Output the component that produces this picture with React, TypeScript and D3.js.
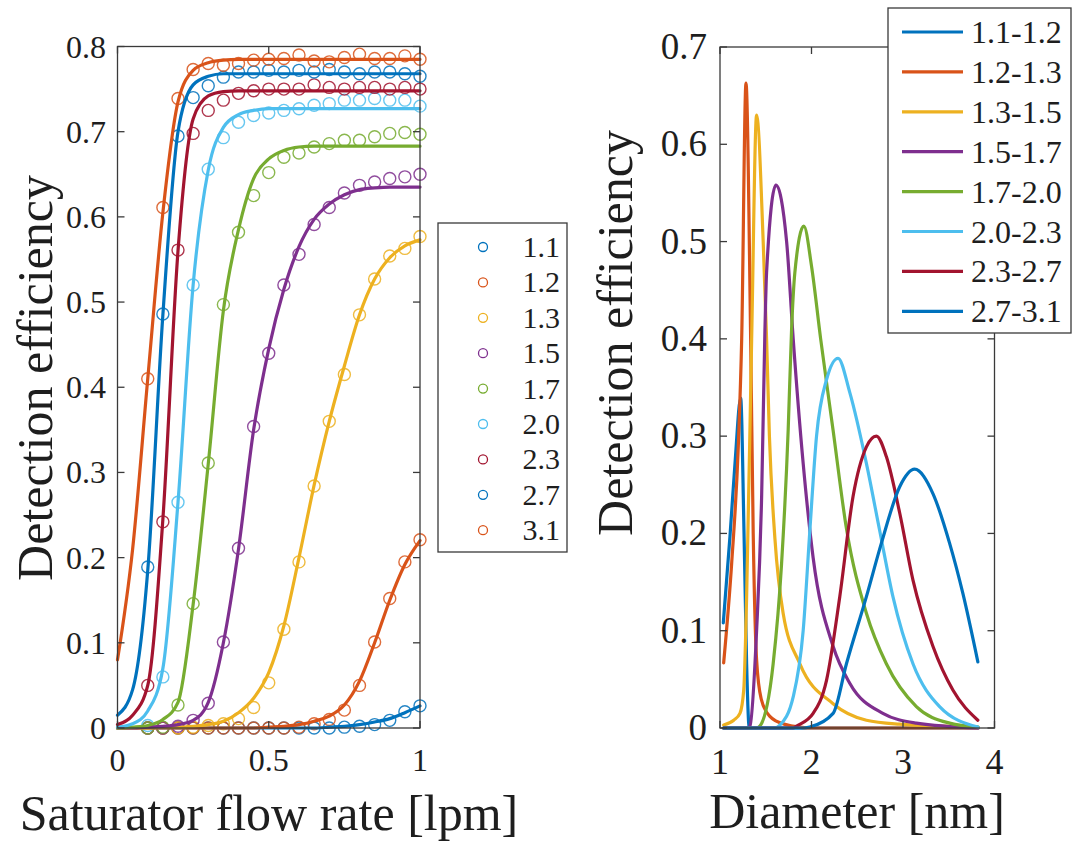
import React from 'react';
import * as d3 from 'd3';

// ---------- Left panel data ----------
const FLOW_FIT = [0, 0.05, 0.1, 0.15, 0.2, 0.25, 0.3, 0.35, 0.4, 0.45, 0.5, 0.55, 0.6, 0.65, 0.7, 0.75, 0.8, 0.85, 0.9, 0.95, 1.0];
const FLOW_PTS = [0.1, 0.15, 0.2, 0.25, 0.3, 0.35, 0.4, 0.45, 0.5, 0.55, 0.6, 0.65, 0.7, 0.75, 0.8, 0.85, 0.9, 0.95, 1.0];
const SIZES = ['1.1', '1.2', '1.3', '1.5', '1.7', '2.0', '2.3', '2.7', '3.1'];

const FIT_11 = [0, 0, 0, 0, 0, 0, 0, 0, 0, 0, 0, 0, 0, 0, 0.001, 0.002, 0.004, 0.007, 0.011, 0.018, 0.026];
const FIT_12 = [0, 0, 0, 0, 0, 0, 0, 0, 0, 0, 0.001, 0.002, 0.004, 0.008, 0.014, 0.027, 0.055, 0.1, 0.15, 0.192, 0.22];
const FIT_13 = [0, 0, 0, 0.001, 0.001, 0.002, 0.004, 0.008, 0.018, 0.035, 0.065, 0.12, 0.2, 0.285, 0.36, 0.425, 0.485, 0.527, 0.552, 0.566, 0.573];
const FIT_15 = [0, 0, 0.001, 0.002, 0.004, 0.009, 0.03, 0.1, 0.21, 0.35, 0.445, 0.515, 0.565, 0.597, 0.615, 0.626, 0.632, 0.634, 0.635, 0.635, 0.635];
const FIT_17 = [0, 0.001, 0.003, 0.01, 0.03, 0.145, 0.31, 0.49, 0.585, 0.645, 0.668, 0.678, 0.682, 0.683, 0.683, 0.683, 0.683, 0.683, 0.683, 0.683, 0.683];
const FIT_20 = [0.001, 0.005, 0.02, 0.07, 0.265, 0.52, 0.655, 0.705, 0.72, 0.725, 0.727, 0.727, 0.727, 0.727, 0.727, 0.727, 0.727, 0.727, 0.727, 0.727, 0.727];
const FIT_23 = [0.004, 0.015, 0.05, 0.245, 0.56, 0.715, 0.742, 0.747, 0.748, 0.748, 0.748, 0.748, 0.748, 0.748, 0.748, 0.748, 0.748, 0.748, 0.748, 0.748, 0.748];
const FIT_27 = [0.015, 0.045, 0.185, 0.485, 0.7, 0.755, 0.765, 0.768, 0.768, 0.768, 0.768, 0.768, 0.768, 0.768, 0.768, 0.768, 0.768, 0.768, 0.768, 0.768, 0.768];
const FIT_31 = [0.08, 0.21, 0.41, 0.605, 0.735, 0.772, 0.781, 0.784, 0.785, 0.785, 0.785, 0.785, 0.785, 0.785, 0.785, 0.785, 0.785, 0.785, 0.785, 0.785, 0.785];

const PTS_11 = [0, 0, 0, 0, 0, 0, 0, 0, 0, 0, 0, 0, 0, 0.001, 0.002, 0.004, 0.009, 0.019, 0.026];
const PTS_12 = [0, 0, 0, 0, 0, 0, 0, 0, 0, 0, 0.001, 0.005, 0.01, 0.021, 0.05, 0.101, 0.152, 0.195, 0.221];
const PTS_13 = [0, 0, 0, 0.001, 0.003, 0.005, 0.011, 0.024, 0.053, 0.116, 0.195, 0.284, 0.36, 0.415, 0.485, 0.527, 0.554, 0.563, 0.577];
const PTS_15 = [0, 0, 0.002, 0.009, 0.029, 0.101, 0.211, 0.354, 0.44, 0.52, 0.556, 0.591, 0.611, 0.628, 0.637, 0.641, 0.645, 0.647, 0.65];
const PTS_17 = [0, 0.001, 0.027, 0.146, 0.311, 0.497, 0.582, 0.625, 0.652, 0.67, 0.675, 0.682, 0.686, 0.69, 0.69, 0.694, 0.698, 0.699, 0.697];
const PTS_20 = [0.003, 0.06, 0.265, 0.52, 0.656, 0.693, 0.711, 0.719, 0.722, 0.725, 0.727, 0.731, 0.733, 0.737, 0.737, 0.739, 0.737, 0.737, 0.73];
const PTS_23 = [0.05, 0.242, 0.561, 0.698, 0.725, 0.737, 0.745, 0.748, 0.75, 0.75, 0.75, 0.755, 0.752, 0.75, 0.752, 0.752, 0.75, 0.752, 0.75];
const PTS_27 = [0.189, 0.486, 0.695, 0.74, 0.754, 0.764, 0.77, 0.77, 0.772, 0.77, 0.772, 0.77, 0.773, 0.77, 0.768, 0.77, 0.77, 0.768, 0.765];
const PTS_31 = [0.41, 0.611, 0.739, 0.773, 0.78, 0.778, 0.78, 0.784, 0.785, 0.786, 0.79, 0.783, 0.782, 0.787, 0.791, 0.786, 0.786, 0.789, 0.785];

const LEFT_FITS = [FIT_11, FIT_12, FIT_13, FIT_15, FIT_17, FIT_20, FIT_23, FIT_27, FIT_31];
const LEFT_PTS = [PTS_11, PTS_12, PTS_13, PTS_15, PTS_17, PTS_20, PTS_23, PTS_27, PTS_31];
const LEFT_Y_TICKS = [0, 0.1, 0.2, 0.3, 0.4, 0.5, 0.6, 0.7, 0.8];
const LEFT_X_TICKS = [0, 0.5, 1];

// ---------- Right panel data ----------
const BINS = ['1.1-1.2', '1.2-1.3', '1.3-1.5', '1.5-1.7', '1.7-2.0', '2.0-2.3', '2.3-2.7', '2.7-3.1'];

const DIA_A = [1.036, 1.109, 1.164, 1.226, 1.262, 1.291, 1.32, 1.5, 2.0, 3.0, 3.82];
const EFF_A = [0.108, 0.197, 0.272, 0.339, 0.203, 0.066, 0.0, 0.0, 0.0, 0.0, 0.0];
const DIA_B = [1.04, 1.128, 1.2, 1.237, 1.284, 1.335, 1.363, 1.4, 1.45, 1.545, 1.7, 2.0, 3.0, 3.82];
const EFF_B = [0.067, 0.17, 0.29, 0.4, 0.663, 0.4, 0.2, 0.07, 0.03, 0.012, 0.004, 0.0, 0.0, 0.0];
const DIA_C = [1.04, 1.15, 1.218, 1.26, 1.291, 1.346, 1.4, 1.472, 1.509, 1.54, 1.6, 1.69, 1.873, 2.236, 2.6, 2.96, 3.82];
const EFF_C = [0.003, 0.008, 0.015, 0.04, 0.135, 0.4, 0.63, 0.5, 0.4, 0.3, 0.195, 0.118, 0.066, 0.025, 0.008, 0.004, 0.001];
const DIA_D = [1.04, 1.3, 1.327, 1.4, 1.455, 1.491, 1.509, 1.611, 1.728, 1.8, 1.909, 2.018, 2.236, 2.418, 2.78, 3.146, 3.82];
const EFF_D = [0.0, 0.0, 0.002, 0.1, 0.238, 0.409, 0.468, 0.558, 0.5, 0.4, 0.272, 0.175, 0.084, 0.046, 0.015, 0.005, 0.0];
const DIA_E = [1.04, 1.4, 1.436, 1.581, 1.673, 1.745, 1.782, 1.818, 1.916, 2.0, 2.1, 2.236, 2.382, 2.6, 2.818, 3.146, 3.51, 3.82];
const EFF_E = [0.0, 0.0, 0.002, 0.066, 0.169, 0.306, 0.409, 0.468, 0.516, 0.475, 0.4, 0.306, 0.205, 0.118, 0.066, 0.022, 0.005, 0.001];
const DIA_F = [1.04, 1.6, 1.655, 1.8, 1.909, 1.982, 2.055, 2.164, 2.29, 2.418, 2.6, 2.745, 2.89, 3.109, 3.4, 3.82];
const EFF_F = [0.0, 0.0, 0.003, 0.032, 0.1, 0.203, 0.3, 0.358, 0.38, 0.345, 0.272, 0.203, 0.135, 0.066, 0.022, 0.001];
const DIA_G = [1.04, 1.8, 1.837, 2.018, 2.164, 2.309, 2.454, 2.6, 2.709, 2.818, 2.964, 3.109, 3.327, 3.545, 3.818];
const EFF_G = [0.0, 0.0, 0.002, 0.015, 0.049, 0.135, 0.238, 0.289, 0.3, 0.279, 0.221, 0.152, 0.084, 0.039, 0.008];
const DIA_H = [1.04, 1.9, 1.98, 2.236, 2.382, 2.6, 2.764, 2.964, 3.127, 3.327, 3.509, 3.655, 3.818];
const EFF_H = [0.0, 0.0, 0.001, 0.015, 0.066, 0.135, 0.19, 0.248, 0.266, 0.241, 0.19, 0.138, 0.068];

const RIGHT_DIA = [DIA_A, DIA_B, DIA_C, DIA_D, DIA_E, DIA_F, DIA_G, DIA_H];
const RIGHT_EFF = [EFF_A, EFF_B, EFF_C, EFF_D, EFF_E, EFF_F, EFF_G, EFF_H];
const RIGHT_Y_TICKS = [0, 0.1, 0.2, 0.3, 0.4, 0.5, 0.6, 0.7];
const RIGHT_X_TICKS = [1, 2, 3, 4];

// ---------- Styles ----------
const MBLUE = '#0072BD', MORANGE = '#D95319', MYELLOW = '#EDB120', MPURPLE = '#7E2F8E',
  MGREEN = '#77AC30', MCYAN = '#4DBEEE', MRED = '#A2142F';
const LEFT_COLORS = [MBLUE, MORANGE, MYELLOW, MPURPLE, MGREEN, MCYAN, MRED, MBLUE, MORANGE];
const RIGHT_COLORS = [MBLUE, MORANGE, MYELLOW, MPURPLE, MGREEN, MCYAN, MRED, MBLUE];
const FONT = "'Liberation Serif', 'Times New Roman', serif";
const AXIS = '#3a3a3a';
const TXT = '#1e1e1e';

function Frame({ x, y, xTicks, yTicks, tickLen }: any) {
  const [x0, x1] = x.range();
  const [y0, y1] = y.range();
  return (
    <g stroke={AXIS} strokeWidth={1.3} fill="none">
      <rect x={x0} y={y1} width={x1 - x0} height={y0 - y1} />
      {yTicks.map((t: number) => (
        <g key={'y' + t}>
          <line x1={x0} x2={x0 + tickLen} y1={y(t)} y2={y(t)} />
          <line x1={x1} x2={x1 - tickLen} y1={y(t)} y2={y(t)} />
        </g>
      ))}
      {xTicks.map((t: number) => (
        <g key={'x' + t}>
          <line x1={x(t)} x2={x(t)} y1={y0} y2={y0 - tickLen} />
          <line x1={x(t)} x2={x(t)} y1={y1} y2={y1 + tickLen} />
        </g>
      ))}
    </g>
  );
}

export default function App() {
  const lx = d3.scaleLinear().domain([0, 1]).range([117.5, 420]);
  const ly = d3.scaleLinear().domain([0, 0.8]).range([728, 46.5]);
  const rx = d3.scaleLinear().domain([1, 4]).range([720, 994.5]);
  const ry = d3.scaleLinear().domain([0, 0.7]).range([728, 47]);

  const leftLine = d3.line<number>()
    .x((_, i) => lx(FLOW_FIT[i]))
    .y((v) => ly(v))
    .curve(d3.curveMonotoneX);

  const rightLine = (dia: number[]) => d3.line<number>()
    .x((_, i) => rx(dia[i]))
    .y((v) => ry(v))
    .curve(d3.curveMonotoneX);

  const fmt = (t: number) => String(t);

  return (
    <svg width={1073} height={843} style={{ position: 'absolute', left: 0, top: 0, background: '#fff', fontFamily: FONT }}>
      <rect x={0} y={0} width={1073} height={843} fill="#fff" />

      {/* ===== Left panel ===== */}
      <g>
        {LEFT_PTS.map((pts, s) => (
          <g key={'p' + s} fill="none" stroke={LEFT_COLORS[s]} strokeWidth={1.4} opacity={0.85}>
            {pts.map((v, i) => (
              <circle key={i} cx={lx(FLOW_PTS[i])} cy={ly(v)} r={6} />
            ))}
          </g>
        ))}
        {LEFT_FITS.map((f, s) => (
          <path key={'f' + s} d={leftLine(f) || ''} fill="none" stroke={LEFT_COLORS[s]} strokeWidth={3.2}
            strokeLinejoin="round" strokeLinecap="round" />
        ))}
        <Frame x={lx} y={ly} xTicks={LEFT_X_TICKS} yTicks={LEFT_Y_TICKS} tickLen={7} />
        {LEFT_Y_TICKS.map((t) => (
          <text key={'ly' + t} x={106} y={ly(t) + 11} fontSize={32} textAnchor="end" fill={TXT}>
            {fmt(t)}
          </text>
        ))}
        {LEFT_X_TICKS.map((t) => (
          <text key={'lx' + t} x={lx(t)} y={771} fontSize={32} textAnchor="middle" fill={TXT}>
            {fmt(t)}
          </text>
        ))}
        <text x={269} y={830} fontSize={50} textAnchor="middle" fill={TXT}>Saturator flow rate [lpm]</text>
        <text transform="translate(52,378) rotate(-90)" fontSize={50} textAnchor="middle" fill={TXT}>
          Detection efficiency
        </text>
        <rect x={438} y={223} width={129} height={329} fill="#fff" stroke={AXIS} strokeWidth={1.3} />
        {SIZES.map((s, i) => {
          const yy = 247 + i * 35.4;
          return (
            <g key={'lg' + s}>
              <circle cx={483} cy={yy} r={4.5} fill="none" stroke={LEFT_COLORS[i]} strokeWidth={1.3} />
              <text x={560} y={yy + 10} fontSize={30} textAnchor="end" fill={TXT}>{s}</text>
            </g>
          );
        })}
      </g>

      {/* ===== Right panel ===== */}
      <g>
        {RIGHT_EFF.map((e, s) => (
          <path key={'r' + s} d={rightLine(RIGHT_DIA[s])(e) || ''} fill="none" stroke={RIGHT_COLORS[s]}
            strokeWidth={3.2} strokeLinejoin="round" strokeLinecap="round" />
        ))}
        <Frame x={rx} y={ry} xTicks={RIGHT_X_TICKS} yTicks={RIGHT_Y_TICKS} tickLen={7} />
        {RIGHT_Y_TICKS.map((t) => (
          <text key={'ry' + t} x={707} y={ry(t) + 12} fontSize={37} textAnchor="end" fill={TXT}>
            {fmt(t)}
          </text>
        ))}
        {RIGHT_X_TICKS.map((t) => (
          <text key={'rx' + t} x={rx(t)} y={774} fontSize={36} textAnchor="middle" fill={TXT}>
            {fmt(t)}
          </text>
        ))}
        <text x={857} y={828} fontSize={50} textAnchor="middle" fill={TXT}>Diameter [nm]</text>
        <text transform="translate(632,333) rotate(-90)" fontSize={50} textAnchor="middle" fill={TXT}>
          Detection efficiency
        </text>
        <rect x={888} y={8} width={183} height={325} fill="#fff" stroke={AXIS} strokeWidth={1.3} />
        {BINS.map((b, i) => {
          const yy = 32 + i * 39.9;
          return (
            <g key={'rl' + b}>
              <line x1={902} x2={963} y1={yy} y2={yy} stroke={RIGHT_COLORS[i]} strokeWidth={3.2} />
              <text x={971} y={yy + 11} fontSize={32} fill={TXT}>{b}</text>
            </g>
          );
        })}
      </g>
    </svg>
  );
}
